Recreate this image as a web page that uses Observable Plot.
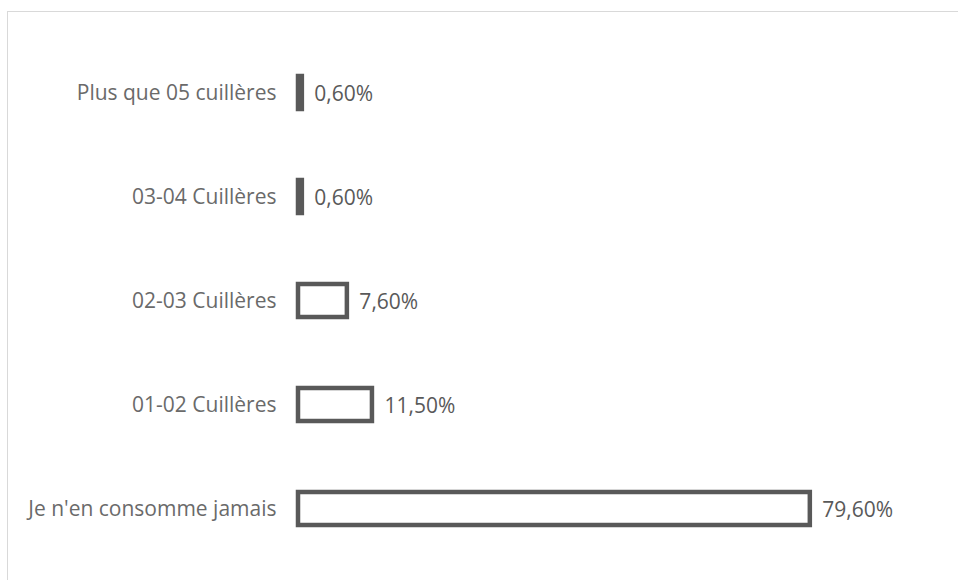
<!DOCTYPE html>
<html>
<head>
<meta charset="utf-8">
<script src="https://cdn.jsdelivr.net/npm/d3@7"></script>
<script src="https://cdn.jsdelivr.net/npm/@observablehq/plot@0.6"></script>
<style>
  html, body { margin: 0; padding: 0; background: #fff; }
  #wrap { position: relative; width: 958px; height: 580px; overflow: hidden; }
  #border { position: absolute; left: 7px; top: 11px; width: 980px; height: 620px;
            border: 1.5px solid #d9d9d9; box-sizing: border-box; pointer-events: none; }
</style>
</head>
<body>
<div id="wrap"><div id="border"></div></div>
<script>
const categories = ["Plus que 05 cuillères", "03-04 Cuillères", "02-03 Cuillères", "01-02 Cuillères", "Je n'en consomme jamais"];
const values = [0.6, 0.6, 7.6, 11.5, 79.6];
const valueLabels = ["0,60%", "0,60%", "7,60%", "11,50%", "79,60%"];

const data = categories.map((c, i) => ({c, v: values[i], label: valueLabels[i]}));

const chart = Plot.plot({
  width: 958,
  height: 580,
  marginLeft: 298,
  marginRight: 17,
  marginTop: 24,
  marginBottom: 3,
  style: {fontFamily: "'Open Sans', sans-serif", fontSize: "21px", color: "#595959", background: "transparent"},
  x: {domain: [0, 100], axis: null},
  y: {domain: categories, paddingInner: 0.683, paddingOuter: 0.5, label: null},
  marks: [
    Plot.axisY({tickSize: 0, tickPadding: 22, fontSize: 21, label: null, fill: "#6a6a6a"}),
    Plot.barX(data, {x: "v", y: "c", fill: "white", stroke: "#595959", strokeWidth: 4.5}),
    Plot.text(data, {x: "v", y: "c", text: "label", textAnchor: "start", dx: 12, dy: 1, fill: "#595959", fontSize: 21})
  ]
});
document.getElementById("wrap").prepend(chart);
</script>
</body>
</html>
